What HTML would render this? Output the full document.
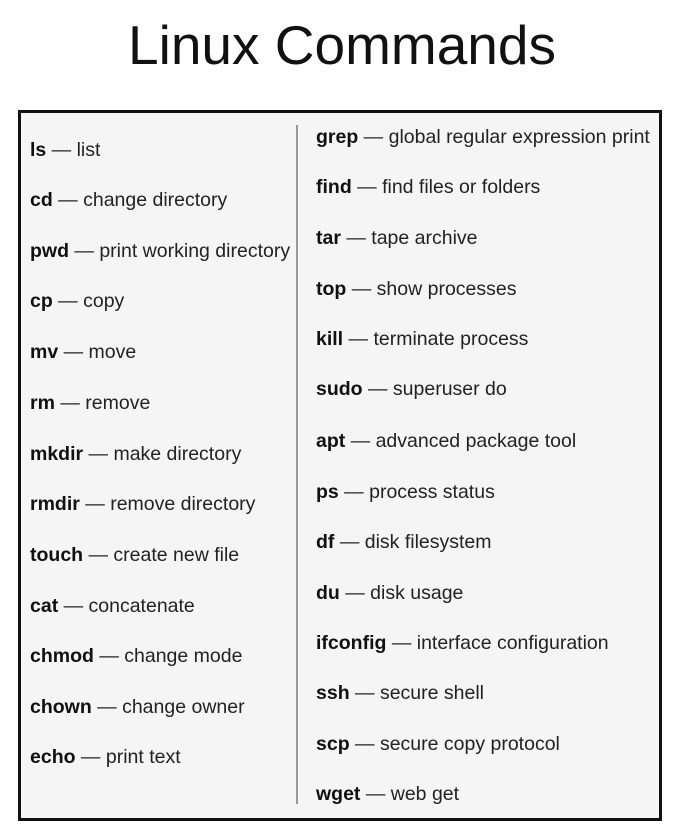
<!DOCTYPE html>
<html><head><meta charset="utf-8"><style>
body{margin:0;width:684px;height:830px;background:#fff;font-family:"Liberation Sans",sans-serif;position:relative;overflow:hidden}
.t{position:absolute;left:0;width:684px;text-align:center;top:12px;font-size:55px;line-height:66px;color:#111}
.box{position:absolute;left:18px;top:110px;width:638px;height:705px;border:3px solid #111;background:#f5f5f5}
.div{position:absolute;left:296px;top:125px;width:2px;height:679px;background:#999}
.r{position:absolute;font-size:19.5px;line-height:22px;color:#222;white-space:nowrap;transform:translateY(-50%)}
.r b{color:#111}
</style></head><body>
<div class="t">Linux Commands</div>
<div class="box"></div>
<div class="div"></div>
<div class="r" style="left:30px;top:150px"><b>ls</b> — list</div>
<div class="r" style="left:30px;top:200px"><b>cd</b> — change directory</div>
<div class="r" style="left:30px;top:251px"><b>pwd</b> — print working directory</div>
<div class="r" style="left:30px;top:301px"><b>cp</b> — copy</div>
<div class="r" style="left:30px;top:352px"><b>mv</b> — move</div>
<div class="r" style="left:30px;top:403px"><b>rm</b> — remove</div>
<div class="r" style="left:30px;top:454px"><b>mkdir</b> — make directory</div>
<div class="r" style="left:30px;top:504px"><b>rmdir</b> — remove directory</div>
<div class="r" style="left:30px;top:555px"><b>touch</b> — create new file</div>
<div class="r" style="left:30px;top:606px"><b>cat</b> — concatenate</div>
<div class="r" style="left:30px;top:656px"><b>chmod</b> — change mode</div>
<div class="r" style="left:30px;top:707px"><b>chown</b> — change owner</div>
<div class="r" style="left:30px;top:757px"><b>echo</b> — print text</div>
<div class="r" style="left:316px;top:137px"><b>grep</b> — global regular expression print</div>
<div class="r" style="left:316px;top:187px"><b>find</b> — find files or folders</div>
<div class="r" style="left:316px;top:238px"><b>tar</b> — tape archive</div>
<div class="r" style="left:316px;top:289px"><b>top</b> — show processes</div>
<div class="r" style="left:316px;top:339px"><b>kill</b> — terminate process</div>
<div class="r" style="left:316px;top:389px"><b>sudo</b> — superuser do</div>
<div class="r" style="left:316px;top:441px"><b>apt</b> — advanced package tool</div>
<div class="r" style="left:316px;top:492px"><b>ps</b> — process status</div>
<div class="r" style="left:316px;top:542px"><b>df</b> — disk filesystem</div>
<div class="r" style="left:316px;top:593px"><b>du</b> — disk usage</div>
<div class="r" style="left:316px;top:643px"><b>ifconfig</b> — interface configuration</div>
<div class="r" style="left:316px;top:693px"><b>ssh</b> — secure shell</div>
<div class="r" style="left:316px;top:744px"><b>scp</b> — secure copy protocol</div>
<div class="r" style="left:316px;top:794px"><b>wget</b> — web get</div>
</body></html>
